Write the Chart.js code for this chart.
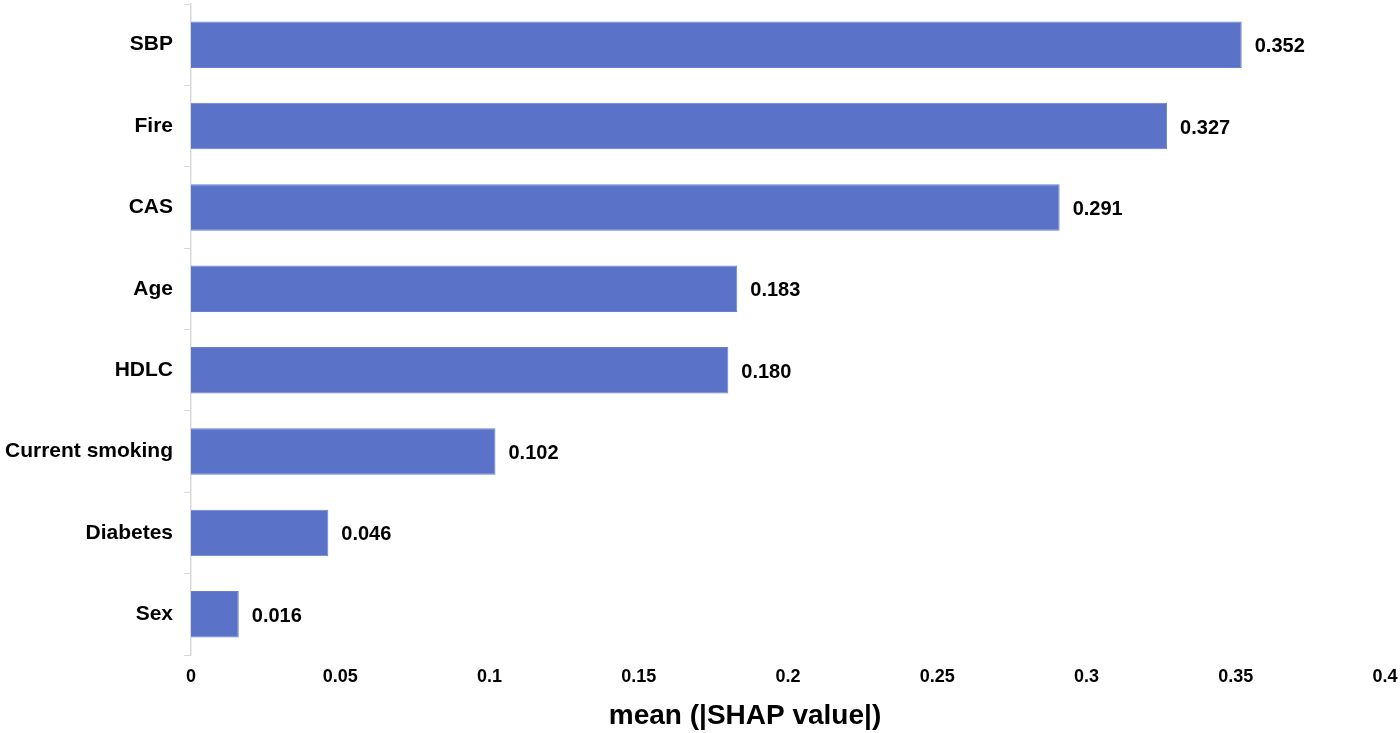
<!DOCTYPE html>
<html>
<head>
<meta charset="utf-8">
<script src="https://cdn.jsdelivr.net/npm/chart.js@4"></script>
<style>
  html, body { margin: 0; padding: 0; background: #fff; }
  #wrap { width: 1400px; height: 733px; }
</style>
</head>
<body>
<div id="wrap"><canvas id="shapChart" width="1400" height="733"></canvas></div>
<script>
// Feature importance (mean |SHAP|), top to bottom
const features = ['SBP', 'Fire', 'CAS', 'Age', 'HDLC', 'Current smoking', 'Diabetes', 'Sex'];
const shapValues = [0.352, 0.327, 0.291, 0.183, 0.180, 0.102, 0.046, 0.016];
const xTicks = [0, 0.05, 0.1, 0.15, 0.2, 0.25, 0.3, 0.35, 0.4];
const xTitle = 'mean (|SHAP value|)';

const FONT = '"Liberation Sans", Arial, sans-serif';

// value next to each bar + the x axis title (it sits left of the plot centre)
const valueLabels = {
  id: 'valueLabels',
  afterDatasetsDraw(chart) {
    const ctx = chart.ctx;
    const meta = chart.getDatasetMeta(0);
    ctx.save();
    ctx.font = 'bold 20px ' + FONT;
    ctx.fillStyle = '#000';
    ctx.textAlign = 'left';
    ctx.textBaseline = 'middle';
    meta.data.forEach((bar, i) => {
      ctx.fillText(shapValues[i].toFixed(3), bar.x + 13, bar.y + 2);
    });

    ctx.font = 'bold 28px ' + FONT;
    ctx.textAlign = 'center';
    ctx.fillText(xTitle, 745, 716);
    ctx.restore();
  }
};

new Chart(document.getElementById('shapChart'), {
  type: 'bar',
  data: {
    labels: features,
    datasets: [{
      data: shapValues,
      backgroundColor: '#5A73C8',
      borderColor: '#6680D0',
      borderWidth: 1,
      categoryPercentage: 1,
      barPercentage: 0.57
    }]
  },
  options: {
    indexAxis: 'y',
    responsive: false,
    animation: false,
    layout: { padding: { top: 4, right: 15, left: 0, bottom: 0 } },
    plugins: {
      legend: { display: false },
      tooltip: { enabled: false }
    },
    scales: {
      x: {
        min: 0,
        max: 0.4,
        afterBuildTicks: scale => {
          scale.ticks = xTicks.map(v => ({ value: v }));
        },
        afterFit: scale => {
          scale.height = 78;
          scale.paddingLeft = 0;
          scale.paddingRight = 0;
        },
        grid: { display: false, drawTicks: false },
        border: { display: false },
        ticks: {
          color: '#000',
          padding: 11,
          maxRotation: 0,
          font: { family: FONT, size: 18, weight: 'bold' },
          callback: v => String(parseFloat(v.toFixed(2)))
        }
      },
      y: {
        offset: true,
        afterFit: scale => {
          scale.width = 191;
          scale.paddingTop = 0;
          scale.paddingBottom = 0;
        },
        grid: {
          offset: true,
          drawOnChartArea: false,
          drawTicks: true,
          tickLength: 7,
          color: '#D9D9D9',
          lineWidth: 1
        },
        border: { display: true, color: '#D9D9D9', width: 1.5 },
        ticks: {
          color: '#000',
          padding: 11,
          font: { family: FONT, size: 21, weight: 'bold' }
        }
      }
    }
  },
  plugins: [valueLabels]
});
</script>
</body>
</html>
